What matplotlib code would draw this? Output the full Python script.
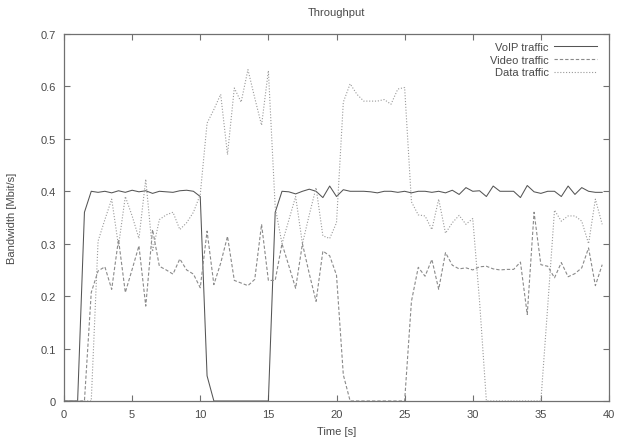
import numpy as np
import matplotlib
matplotlib.use("Agg")
import matplotlib.pyplot as plt

# ---- data (sampled every 0.5 s) ----
time_s = np.arange(0, 40, 0.5)

voip = [0, 0, 0, 0.36, 0.40, 0.398, 0.40, 0.397, 0.401, 0.398,
        0.402, 0.399, 0.401, 0.396, 0.40, 0.399, 0.398, 0.401, 0.402, 0.40,
        0.39, 0.048, 0, 0, 0, 0, 0, 0, 0, 0,
        0, 0.36, 0.40, 0.399, 0.395, 0.40, 0.404, 0.40, 0.388, 0.41,
        0.39, 0.403, 0.40, 0.40, 0.40, 0.399, 0.397, 0.40, 0.40, 0.398,
        0.40, 0.397, 0.40, 0.40, 0.398, 0.40, 0.397, 0.402, 0.394, 0.407,
        0.40, 0.401, 0.39, 0.41, 0.40, 0.40, 0.40, 0.388, 0.411, 0.399,
        0.396, 0.40, 0.40, 0.39, 0.41, 0.394, 0.407, 0.40, 0.398, 0.398]

video = [0, 0, 0, 0, 0.207, 0.248, 0.256, 0.213, 0.308, 0.207,
         0.251, 0.296, 0.181, 0.327, 0.257, 0.25, 0.242, 0.271, 0.25, 0.242,
         0.216, 0.324, 0.222, 0.263, 0.314, 0.23, 0.225, 0.22, 0.232, 0.337,
         0.23, 0.23, 0.30, 0.258, 0.215, 0.30, 0.243, 0.19, 0.286, 0.277,
         0.24, 0.05, 0, 0, 0, 0, 0, 0, 0, 0,
         0, 0.19, 0.255, 0.238, 0.27, 0.213, 0.283, 0.259, 0.252, 0.254,
         0.25, 0.256, 0.257, 0.252, 0.25, 0.251, 0.251, 0.265, 0.165, 0.36,
         0.26, 0.257, 0.235, 0.264, 0.237, 0.243, 0.254, 0.292, 0.22, 0.26]

data = [0, 0, 0, 0, 0, 0.305, 0.346, 0.385, 0.296, 0.39,
        0.353, 0.31, 0.423, 0.285, 0.346, 0.355, 0.36, 0.327, 0.34, 0.36,
        0.394, 0.53, 0.556, 0.585, 0.47, 0.597, 0.57, 0.632, 0.578, 0.526,
        0.63, 0.37, 0.30, 0.345, 0.39, 0.30, 0.355, 0.407, 0.315, 0.31,
        0.34, 0.57, 0.605, 0.585, 0.572, 0.572, 0.572, 0.575, 0.566, 0.595,
        0.598, 0.38, 0.355, 0.353, 0.327, 0.385, 0.32, 0.34, 0.354, 0.337,
        0.348, 0.19, 0, 0, 0, 0, 0, 0, 0, 0,
        0, 0.18, 0.364, 0.343, 0.353, 0.353, 0.343, 0.30, 0.385, 0.337]

labels = ["VoIP traffic", "Video traffic", "Data traffic"]
x_ticks = [0, 5, 10, 15, 20, 25, 30, 35, 40]
y_ticks = [0, 0.1, 0.2, 0.3, 0.4, 0.5, 0.6, 0.7]
y_ticklabels = ["0", "0.1", "0.2", "0.3", "0.4", "0.5", "0.6", "0.7"]

# ---- style ----
plt.rcParams['font.family'] = ['Liberation Sans', 'DejaVu Sans']
plt.rcParams['font.size'] = 8
txt = "#4a4a4a"
frame = "#707070"

fig = plt.figure(figsize=(6.17, 4.39), dpi=100)
ax = fig.add_axes([64/617, 1-402/439, (609-64)/617, (402-35)/439])

ax.plot(time_s, voip, color="#555555", lw=0.75, ls="-", label=labels[0])
ax.plot(time_s, video, color="#8a8a8a", lw=0.8, ls=(0, (3, 1.8)), label=labels[1])
ax.plot(time_s, data, color="#999999", lw=0.8, ls=(0, (1, 1.6)), label=labels[2])

ax.set_xlim(0, 40)
ax.set_ylim(0, 0.7)
ax.set_xticks(x_ticks)
ax.set_xticklabels([str(v) for v in x_ticks])
ax.set_yticks(y_ticks)
ax.set_yticklabels(y_ticklabels)

ax.tick_params(direction="in", length=4, width=0.8, color=frame,
               labelcolor=txt, top=True, right=True, pad=6)
for s in ax.spines.values():
    s.set_color(frame)
    s.set_linewidth(0.9)

ax.set_xlabel("Time [s]", color=txt, labelpad=5)
ax.set_ylabel("Bandwidth [Mbit/s]", color=txt, labelpad=17)
ax.set_title("Throughput", color=txt, fontsize=8, pad=14)

leg = ax.legend(loc="upper right", frameon=False, markerfirst=False,
                handlelength=3.8, handletextpad=0.5, labelspacing=0.25,
                borderaxespad=0.0, bbox_to_anchor=(1 - 8/545, 1 - 3.5/367),
                fontsize=8)
for t in leg.get_texts():
    t.set_color(txt)

fig.savefig("out.png", dpi=100)
